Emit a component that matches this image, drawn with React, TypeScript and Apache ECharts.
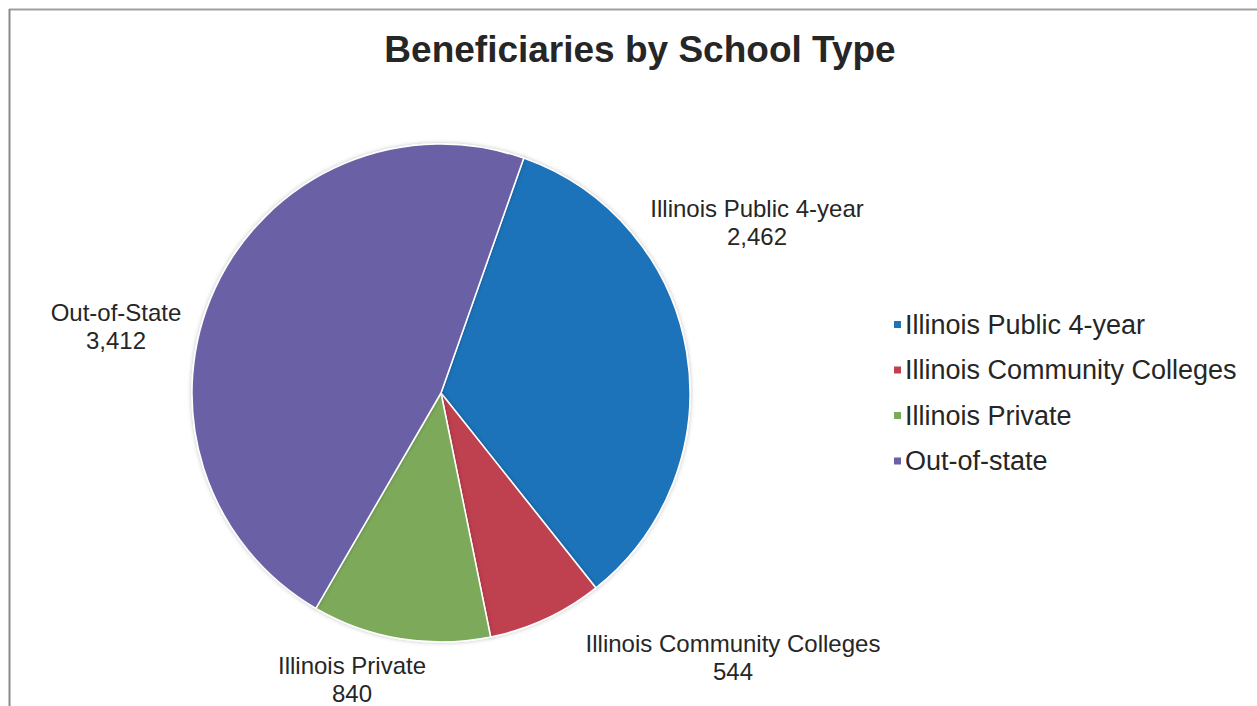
import React, { useEffect, useRef } from "react";
import * as echarts from "echarts";

const categories = ["Illinois Public 4-year", "Illinois Community Colleges", "Illinois Private", "Out-of-state"];
const labelNames = ["Illinois Public 4-year", "Illinois Community Colleges", "Illinois Private", "Out-of-State"];
const values = [2462, 544, 840, 3412];
const colors = ["#1E73B9", "#BF4050", "#7CAA5A", "#6A60A6"];

// label offsets from pie centre (px)
const labelOffsets = [
  [316, -171],
  [292, 264],
  [-89, 286],
  [-325, -67],
];

export default function App() {
  const ref = useRef<HTMLDivElement>(null);
  useEffect(() => {
    const chart = echarts.init(ref.current!, null, { renderer: "svg" });
    const cx = 441;
    const cy = 393;
    chart.setOption({
      animation: false,
      backgroundColor: "#ffffff",
      title: {
        text: "Beneficiaries by School Type",
        left: 635,
        top: 26,
        textAlign: "center",
        textStyle: { fontFamily: "Liberation Sans, Arial, sans-serif", fontSize: 37, fontWeight: "bold", color: "#262626" },
      },
      legend: {
        orient: "vertical",
        left: 887,
        top: 306,
        itemWidth: 9,
        itemHeight: 9,
        itemGap: 18.5,
        icon: "rect",
        data: categories,
        textStyle: { fontFamily: "Liberation Sans, Arial, sans-serif", fontSize: 27, color: "#262626", padding: [0, 0, 0, -2] },
      },
      graphic: [
        { type: "line", shape: { x1: 9, y1: 9.5, x2: 1257, y2: 9.5 }, style: { stroke: "#a0a0a0", lineWidth: 2 } },
        { type: "line", shape: { x1: 9.5, y1: 9, x2: 9.5, y2: 706 }, style: { stroke: "#8a8a8a", lineWidth: 2 } },
      ],
      series: [
        {
          type: "pie",
          center: [cx, cy],
          radius: 249,
          startAngle: 70.6,
          clockwise: true,
          avoidLabelOverlap: false,
          itemStyle: { borderColor: "#ffffff", borderWidth: 1.5, shadowBlur: 4, shadowColor: "rgba(0,0,0,0.25)" },
          label: {
            show: true,
            position: "outside",
            formatter: (p: any) => `${labelNames[p.dataIndex]}\n${Number(p.value).toLocaleString("en-US")}`,
            fontFamily: "Liberation Sans, Arial, sans-serif",
            fontSize: 24,
            lineHeight: 28,
            color: "#262626",
            align: "center",
          },
          labelLine: { show: false },
          labelLayout: (params: any) => {
            const o = labelOffsets[params.dataIndex];
            return { x: cx + o[0], y: cy + o[1], align: "center", verticalAlign: "middle" };
          },
          data: categories.map((c, i) => ({ name: c, value: values[i], itemStyle: { color: colors[i] } })),
        },
      ],
    });
    return () => chart.dispose();
  }, []);
  return <div ref={ref} style={{ position: "fixed", left: 0, top: 0, width: 1257, height: 706 }} />;
}
